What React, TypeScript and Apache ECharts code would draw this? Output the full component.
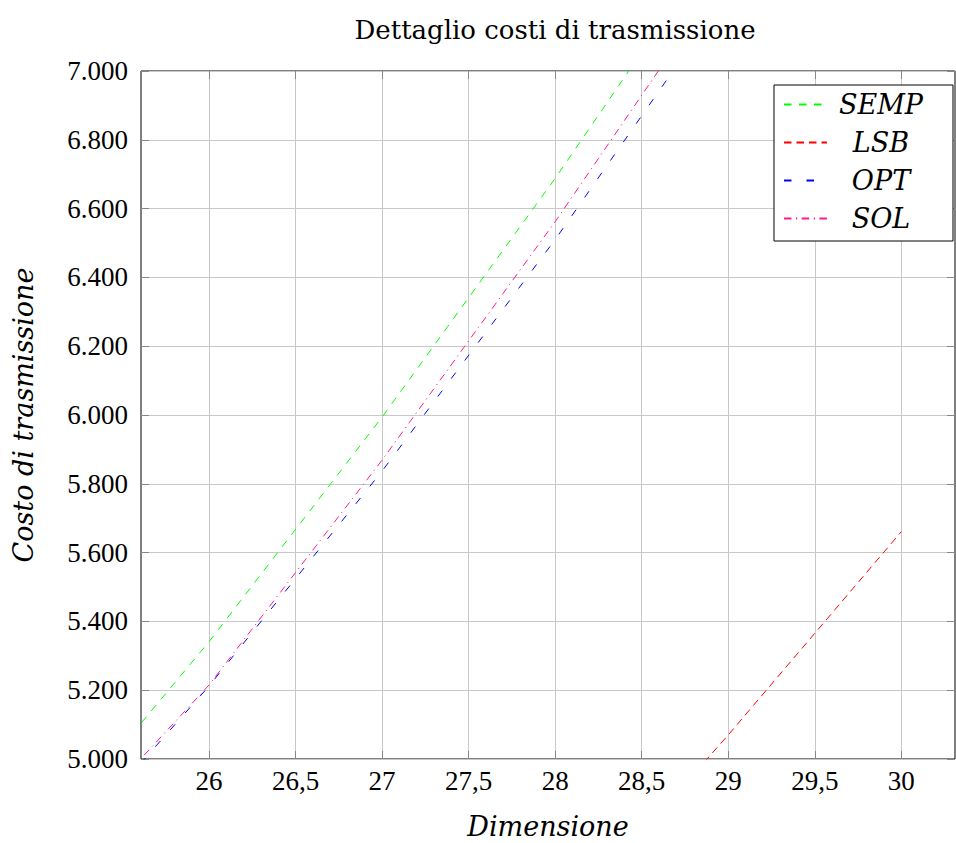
import React, { useEffect, useRef } from "react";
import * as echarts from "echarts";

const dims = [25, 26, 27, 28, 29, 30];
const semp = [4738, 5341, 5994, 6688, 7422, null];
const lsb = [null, null, null, 4500, 5070, 5661];
const opt = [4644, 5212, 5837, 6510, 7230, null];
const sol = [4671, 5215, 5869, 6562, 7297, null];
const xTicks = [26, 26.5, 27, 27.5, 28, 28.5, 29, 29.5, 30];

const NUMFONT = "Liberation Serif";
const TXTFONT = "DejaVu Serif";

function pairs(vals: (number | null)[]) {
  const out: any[] = [];
  dims.forEach((d, i) => {
    if (vals[i] !== null) out.push([d, vals[i]]);
  });
  return out;
}

export default function App() {
  const ref = useRef<HTMLDivElement>(null);
  useEffect(() => {
    if (!ref.current) return;
    const chart = echarts.init(ref.current, null, { renderer: "svg" });
    const xmin = 25.607;
    const xmax = 30.31;
    const tickStyle = { show: true, inside: true, length: 8, lineStyle: { color: "#888", width: 1 } };
    const mkSeries = (name: string, vals: any[], color: string, dash: number[]) => ({
      name,
      type: "line",
      data: pairs(vals),
      showSymbol: false,
      symbol: "none",
      clip: true,
      lineStyle: { color, width: 1, type: dash },
      itemStyle: { color },
    });
    chart.setOption({
      animation: false,
      backgroundColor: "#fff",
      title: {
        text: "Dettaglio costi di trasmissione",
        left: 550,
        textAlign: "center",
        top: 12,
        textStyle: { fontFamily: TXTFONT, fontSize: 26, fontWeight: "normal", color: "#000" },
      },
      grid: {
        left: 141,
        right: 1,
        top: 71,
        bottom: 84,
        show: true,
        outerBoundsMode: "none",
        containLabel: false,
        borderColor: "#000",
        borderWidth: 1,
        backgroundColor: "transparent",
      },
      legend: {
        orient: "vertical",
        right: 3,
        top: 85,
        backgroundColor: "#fff",
        borderColor: "#000",
        borderWidth: 1,
        borderRadius: 0,
        padding: [6, 30, 9, 9],
        itemWidth: 43,
        itemHeight: 2,
        itemGap: 11,
        itemStyle: { opacity: 0 },
        formatter: "{a|{name}}",
        textStyle: {
          fontFamily: TXTFONT,
          fontSize: 27,
          fontStyle: "italic",
          color: "#000",
          rich: {
            a: { width: 98, align: "center", fontFamily: TXTFONT, fontSize: 27, fontStyle: "italic", color: "#000" },
          },
        },
        data: ["SEMP", "LSB", "OPT", "SOL"],
      },
      xAxis: [
        {
          type: "value",
          min: xmin,
          max: xmax,
          position: "bottom",
          name: "Dimensione",
          nameLocation: "middle",
          nameGap: 54,
          nameTextStyle: { fontFamily: TXTFONT, fontSize: 27, fontStyle: "italic", color: "#000" },
          axisLine: { show: false },
          axisTick: { ...tickStyle, customValues: xTicks },
          axisLabel: {
            customValues: xTicks,
            fontFamily: NUMFONT,
            fontSize: 27,
            color: "#000",
            margin: 8,
            formatter: (v: number) => String(v).replace(".", ","),
          },
          splitLine: { show: true, lineStyle: { color: "#c8c8c8", width: 1 } },
        },
        {
          type: "value",
          min: xmin,
          max: xmax,
          position: "top",
          axisLine: { show: false },
          axisTick: { ...tickStyle, customValues: xTicks },
          axisLabel: { show: false, customValues: xTicks },
          splitLine: { show: false },
        },
      ],
      yAxis: [
        {
          type: "value",
          min: 5000,
          max: 7000,
          interval: 200,
          position: "left",
          name: "Costo di trasmissione",
          nameLocation: "middle",
          nameGap: 104,
          nameTextStyle: { fontFamily: TXTFONT, fontSize: 27, fontStyle: "italic", color: "#000" },
          axisLine: { show: false },
          axisTick: tickStyle,
          axisLabel: {
            fontFamily: NUMFONT,
            fontSize: 27,
            color: "#000",
            margin: 13,
            formatter: (v: number) => {
              const s = String(Math.round(v));
              return s.length > 3 ? s.slice(0, s.length - 3) + "." + s.slice(-3) : s;
            },
          },
          splitLine: { show: true, lineStyle: { color: "#c8c8c8", width: 1 } },
        },
        {
          type: "value",
          min: 5000,
          max: 7000,
          interval: 200,
          position: "right",
          axisLine: { show: false },
          axisTick: tickStyle,
          axisLabel: { show: false },
          splitLine: { show: false },
        },
      ],
      series: [
        mkSeries("SEMP", semp, "#00ff00", [7.5, 7.5]),
        mkSeries("LSB", lsb, "#ff0000", [7.5, 5]),
        mkSeries("OPT", opt, "#0000ff", [7.5, 15]),
        mkSeries("SOL", sol, "#ff1a8c", [7.5, 4.5, 1.2, 4.5]),
      ],
    });
    return () => chart.dispose();
  }, []);
  return (
    <div
      ref={ref}
      style={{ position: "absolute", left: 0, top: 0, width: 956, height: 843 }}
    />
  );
}
